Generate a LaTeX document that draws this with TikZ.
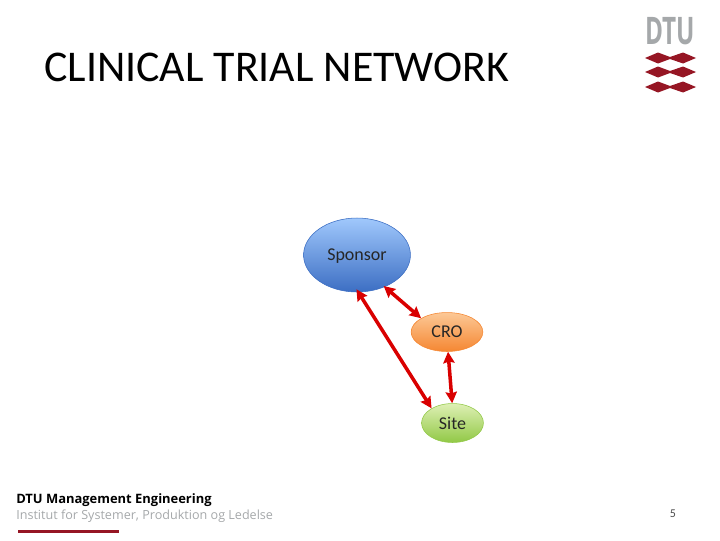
\documentclass[tikz,border=0pt]{standalone}
\usepackage{fontspec}
\setmainfont{Carlito}
\newfontfamily\footfont{Open Sans}
\usetikzlibrary{shapes.geometric, arrows.meta}
\definecolor{dtured}{RGB}{150,22,36}
\definecolor{dtugray}{RGB}{165,168,170}
\definecolor{sponsortop}{RGB}{160,200,252}
\definecolor{sponsorbot}{RGB}{60,110,195}
\definecolor{crotop}{RGB}{252,200,150}
\definecolor{crobot}{RGB}{245,135,50}
\definecolor{sitetop}{RGB}{222,240,180}
\definecolor{sitebot}{RGB}{145,200,70}
\tikzset{
	party/.style={ellipse, draw=#1, line width=0.4pt, inner sep=0pt, font=\fontsize{12.8}{14}\selectfont, text=black!85},
	link/.style={{Stealth[length=8pt,width=8pt,inset=1pt]}-{Stealth[length=8pt,width=8pt,inset=1pt]}, draw=red!85!black, line width=2.5pt},
	band/.style={fill=dtured, draw=none},
}
\begin{document}
\begin{tikzpicture}[x=0.025cm, y=-0.025cm]
				\useasboundingbox (0,0) rectangle (720,540);
				\node (title) [anchor=west, inner sep=0pt, font=\fontsize{31.2}{34}\selectfont] at (44,67) {CLINICAL TRIAL NETWORK};
				\node (sponsor) [party=sponsorbot, minimum width=76pt, minimum height=52.6pt, top color=sponsortop, bottom color=sponsorbot] at (357,255) {\raisebox{-3.6pt}[0pt][0pt]{Sponsor}};
				\node (cro) [party=crobot, minimum width=51pt, minimum height=27.7pt, top color=crotop, bottom color=crobot] at (447,332) {CRO};
				\node (site) [party=sitebot, minimum width=44pt, minimum height=27.7pt, top color=sitetop, bottom color=sitebot] at (452.5,423) {Site};
				\draw[link, shorten <=-2.5pt](sponsor.-88) to (site.145);
				\draw[link, shorten <=-1pt](sponsor.-49) to (cro.152);
				\draw[link](cro.-87) to (site.91);
				% logo
				\node (dtu) [anchor=center, inner sep=0pt, text=dtugray, font=\footfont\fontsize{27}{27}\selectfont\bfseries, xscale=0.64, transform shape] at (670,31) {DTU};
				\foreach \y in {58,72,87}
					\fill[band] (645,\y) -- (658,\y-5.5) -- (670,\y-1) -- (683,\y-5.5) -- (696,\y) -- (683,\y+5.5) -- (670,\y+1) -- (658,\y+5.5) -- cycle;
				% footer
				\node (dept) [anchor=west, inner sep=0pt, font=\footfont\fontsize{9.2}{11}\selectfont\bfseries] at (16,500) {DTU Management Engineering};
				\node (inst) [anchor=west, inner sep=0pt, text=dtugray, font=\footfont\fontsize{8.95}{11}\selectfont] at (16,516) {Institut for Systemer, Produktion og Ledelse};
				\fill[dtured] (18,529.5) rectangle (119,532.5);
				\node (page) [inner sep=0pt, text=black!70, font=\fontsize{8.5}{10}\selectfont] at (673,514) {5};
			\end{tikzpicture}
\end{document}
